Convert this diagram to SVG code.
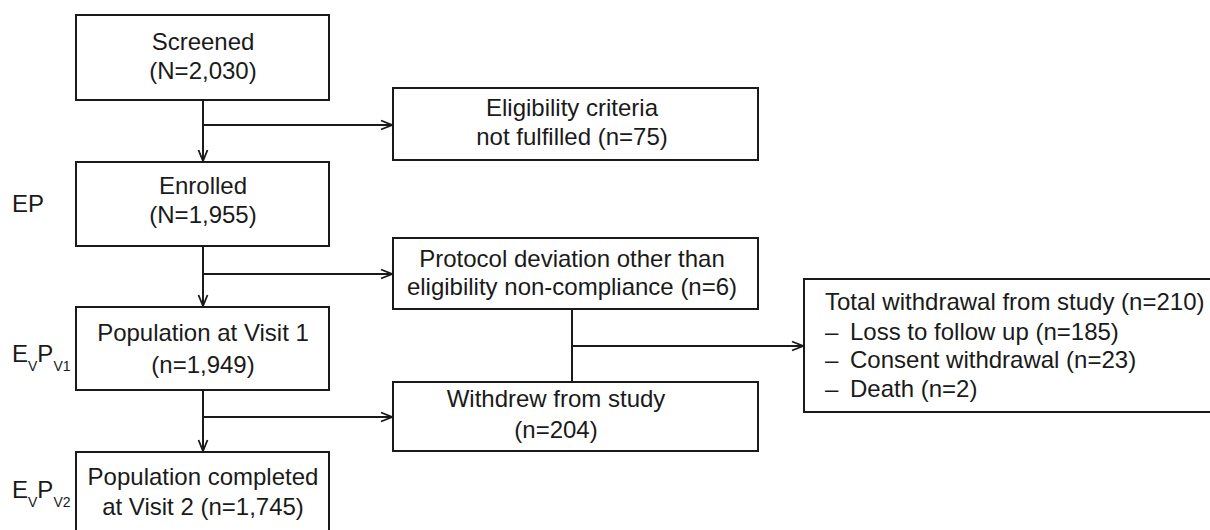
<svg xmlns="http://www.w3.org/2000/svg" width="1210" height="530" viewBox="0 0 1210 530">
<style>
.box{fill:#fff;stroke:#1a1a1a;stroke-width:2}
.ln{fill:none;stroke:#1a1a1a;stroke-width:2}
.t{font-family:"Liberation Sans",Arial,sans-serif;font-size:24px;fill:#1a1a1a}
.c{text-anchor:middle}
.s{font-size:14px}
</style>
<defs>
<marker id="ah" markerUnits="userSpaceOnUse" markerWidth="14" markerHeight="12" refX="12" refY="6" orient="auto">
<path d="M1,1.5 L12,6 L1,10.5" fill="none" stroke="#1a1a1a" stroke-width="1.8"/>
</marker>
</defs>
<rect width="1210" height="530" fill="#fff"/>
<g id="connectors">
<line class="ln" x1="203" y1="100" x2="203" y2="161" marker-end="url(#ah)"/>
<line class="ln" x1="203" y1="125" x2="392" y2="125" marker-end="url(#ah)"/>
<line class="ln" x1="203" y1="246" x2="203" y2="306" marker-end="url(#ah)"/>
<line class="ln" x1="203" y1="274" x2="392" y2="274" marker-end="url(#ah)"/>
<line class="ln" x1="203" y1="390" x2="203" y2="451" marker-end="url(#ah)"/>
<line class="ln" x1="203" y1="417" x2="392" y2="417" marker-end="url(#ah)"/>
<line class="ln" x1="572" y1="309" x2="572" y2="382"/>
<line class="ln" x1="572" y1="346" x2="803" y2="346" marker-end="url(#ah)"/>
</g>
<g id="screened">
<rect class="box" x="76" y="15" width="253" height="85"/>
<text class="t c" x="203" y="50">Screened</text>
<text class="t c" x="203" y="79">(N=2,030)</text>
</g>
<g id="eligibility">
<rect class="box" x="393" y="88" width="365" height="72"/>
<text class="t c" x="572" y="116">Eligibility criteria</text>
<text class="t c" x="572" y="145">not fulfilled (n=75)</text>
</g>
<g id="enrolled">
<rect class="box" x="76" y="162" width="253" height="84"/>
<text class="t c" x="203" y="194">Enrolled</text>
<text class="t c" x="203" y="223">(N=1,955)</text>
</g>
<g id="label-ep">
<text class="t" x="12" y="212">EP</text>
</g>
<g id="protocol">
<rect class="box" x="393" y="238" width="365" height="71"/>
<text class="t c" x="572" y="267">Protocol deviation other than</text>
<text class="t c" x="572" y="295">eligibility non-compliance (n=6)</text>
</g>
<g id="visit1">
<rect class="box" x="76" y="307" width="253" height="83"/>
<text class="t c" x="203" y="341">Population at Visit 1</text>
<text class="t c" x="203" y="373">(n=1,949)</text>
</g>
<g id="label-evpv1">
<text class="t" x="12" y="362">E<tspan class="s" dy="9">V</tspan><tspan dy="-9">P</tspan><tspan class="s" dy="9">V1</tspan></text>
</g>
<g id="withdrew">
<rect class="box" x="393" y="382" width="365" height="69"/>
<text class="t c" x="556" y="407">Withdrew from study</text>
<text class="t c" x="556" y="438">(n=204)</text>
</g>
<g id="total">
<rect class="box" x="804" y="279" width="410" height="133"/>
<text class="t" x="825" y="310">Total withdrawal from study (n=210)</text>
<text class="t" x="825" y="340">–</text>
<text class="t" x="850" y="340">Loss to follow up (n=185)</text>
<text class="t" x="825" y="368">–</text>
<text class="t" x="850" y="368">Consent withdrawal (n=23)</text>
<text class="t" x="825" y="397">–</text>
<text class="t" x="850" y="397">Death (n=2)</text>
</g>
<g id="visit2">
<rect class="box" x="76" y="452" width="253" height="82"/>
<text class="t c" x="203" y="485">Population completed</text>
<text class="t c" x="203" y="515">at Visit 2 (n=1,745)</text>
</g>
<g id="label-evpv2">
<text class="t" x="12" y="498">E<tspan class="s" dy="9">V</tspan><tspan dy="-9">P</tspan><tspan class="s" dy="9">V2</tspan></text>
</g>
</svg>
